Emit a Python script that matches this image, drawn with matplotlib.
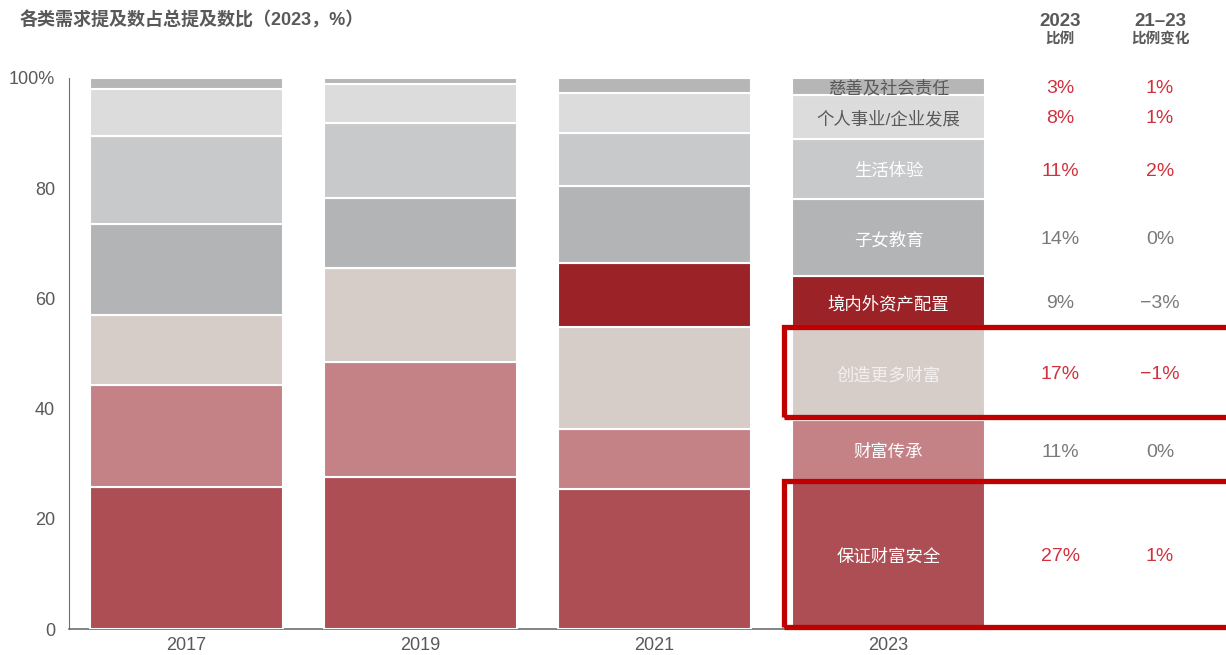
import numpy as np
import matplotlib
matplotlib.use("Agg")
import matplotlib.pyplot as plt
from matplotlib.patches import Rectangle

plt.rcParams['font.family'] = ['Liberation Sans', 'Noto Sans CJK SC', 'DejaVu Sans']

# data
years = ["2017", "2019", "2021", "2023"]
categories = ["保证财富安全", "财富传承", "创造更多财富", "境内外资产配置",
              "子女教育", "生活体验", "个人事业/企业发展", "慈善及社会责任"]
share = {
    "保证财富安全":     [25.8, 27.6, 25.4, 27],
    "财富传承":         [18.5, 20.9, 10.9, 11],
    "创造更多财富":     [12.7, 17.0, 18.5, 17],
    "境内外资产配置":   [0.0, 0.0, 11.6, 9],
    "子女教育":         [16.5, 12.7, 14.0, 14],
    "生活体验":         [16.0, 13.6, 9.6, 11],
    "个人事业/企业发展": [8.5, 7.1, 7.3, 8],
    "慈善及社会责任":   [2.0, 1.1, 2.7, 3],
}
pct_2023 = ["27%", "11%", "17%", "9%", "14%", "11%", "8%", "3%"]
chg_21_23 = ["1%", "0%", "\u22121%", "\u22123%", "0%", "2%", "1%", "1%"]
highlight = [True, False, True, False, False, True, True, True]
boxed = ["保证财富安全", "创造更多财富"]

colors = ["#AD4E54", "#C48287", "#D6CDC8", "#9B2226",
          "#B3B4B6", "#C8C9CB", "#DCDCDC", "#B6B6B6"]
label_colors = ["white", "white", "#F4F0EE", "white",
                "white", "white", "#595959", "#595959"]
grey = "#595959"
red_txt = "#D0313D"

fig = plt.figure(figsize=(12.26, 6.55), dpi=100)
ax = fig.add_axes([69/1226, 1-629/655, 1-69/1226, (629-78)/655])

x = np.arange(len(years))
w = 0.825
bottom = np.zeros(len(years))
for i, cat in enumerate(categories):
    vals = np.array(share[cat])
    ax.bar(x, vals, w, bottom=bottom, color=colors[i], edgecolor="white",
           linewidth=1.5, zorder=2)
    # labels in the 2023 bar + table
    mid = bottom[3] + vals[3]/2
    ax.text(x[3], mid - 0.4, cat, ha="center", va="center", fontsize=12.5,
            color=label_colors[i], zorder=3)
    c = red_txt if highlight[i] else "#7A7A7A"
    ax.text(3.733, mid - 0.4, pct_2023[i], ha="center", va="center", fontsize=14, color=c)
    ax.text(4.16, mid - 0.4, chg_21_23[i], ha="center", va="center", fontsize=14, color=c)
    if cat in boxed:
        r = Rectangle((2.555, bottom[3] + 0.4), 2.2, vals[3] - 0.6, fill=False,
                      edgecolor="#C00000", linewidth=3.8, zorder=5, clip_on=False)
        ax.add_patch(r)
    bottom += vals

ax.set_xlim(-0.502, 4.442)
ax.set_ylim(0, 100)
for s in ["top", "right", "bottom"]:
    ax.spines[s].set_visible(False)
ax.spines["left"].set_color("#6E6E6E")
ax.plot([-0.502, 2.56], [0, 0], color="#6E6E6E", linewidth=1.2, clip_on=False, zorder=1)

ax.set_xticks(x)
ax.set_xticklabels(years, fontsize=13, color=grey)
ax.set_yticks([0, 20, 40, 60, 80, 100])
ax.set_yticklabels(["0", "20", "40", "60", "80", "100%"], fontsize=13, color=grey)
ax.tick_params(length=0, pad=10)
ax.tick_params(axis="x", pad=6)

fig.text(20/1226, 1-20/655, "各类需求提及数占总提及数比（2023，%）", fontsize=13,
         fontweight="bold", color=grey, va="center", ha="left")
fig.text(1060/1226, 1-21/655, "2023", fontsize=13.5, fontweight="bold",
         color=grey, ha="center", va="center")
fig.text(1060/1226, 1-39/655, "比例", fontsize=10.5, fontweight="bold",
         color=grey, ha="center", va="center")
fig.text(1160/1226, 1-21/655, "21\u201323", fontsize=13.5, fontweight="bold",
         color=grey, ha="center", va="center")
fig.text(1160/1226, 1-39/655, "比例变化", fontsize=10.5, fontweight="bold",
         color=grey, ha="center", va="center")

fig.savefig("out.png", dpi=100)
